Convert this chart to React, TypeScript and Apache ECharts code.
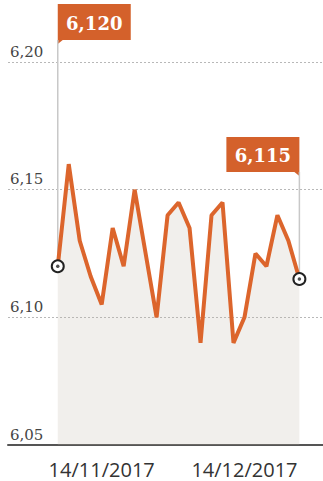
import React, { useEffect, useRef } from 'react';
import * as echarts from 'echarts';

const dates = [
  '05/11/2017', '07/11/2017', '09/11/2017', '12/11/2017', '14/11/2017', '16/11/2017',
  '19/11/2017', '21/11/2017', '23/11/2017', '26/11/2017', '28/11/2017', '30/11/2017',
  '03/12/2017', '05/12/2017', '07/12/2017', '10/12/2017', '12/12/2017', '14/12/2017',
  '17/12/2017', '19/12/2017', '21/12/2017', '24/12/2017', '26/12/2017',
];
const values = [
  6.12, 6.16, 6.13, 6.116, 6.105, 6.135, 6.12, 6.15, 6.125, 6.1, 6.14, 6.145,
  6.135, 6.09, 6.14, 6.145, 6.09, 6.1, 6.125, 6.12, 6.14, 6.13, 6.115,
];
const xTickIdx = [4, 17];
const yMin = 6.05;
const yMax = 6.2;
const yStep = 0.05;

export default function App() {
  const ref = useRef<HTMLDivElement>(null);
  useEffect(() => {
    document.body.style.margin = '0';
    const chart = echarts.init(ref.current!, null, { renderer: 'svg' });
    const last = values.length - 1;
    const data = values.map((v, i) => [i, v]);
    const endStyle = { color: '#fff', borderColor: '#222', borderWidth: 2 };
    chart.setOption({
      animation: false,
      grid: { left: 8, right: 0, top: 62, bottom: 36 },
      xAxis: {
        type: 'value',
        min: -4.53,
        max: 24.15,
        splitLine: { show: false },
        axisTick: { show: false },
        axisLine: { show: true, onZero: false, lineStyle: { color: '#555', width: 2 } },
        axisLabel: {
          customValues: xTickIdx,
          formatter: (v: number) => dates[Math.round(v)] || '',
          margin: 14,
          fontFamily: 'Open Sans',
          fontSize: 20,
          color: '#333',
        },
      },
      yAxis: {
        type: 'value',
        min: yMin,
        max: yMax,
        interval: yStep,
        axisLine: { show: false },
        axisTick: { show: false },
        splitLine: { lineStyle: { type: [2, 2], color: '#b8b8b8', width: 1 } },
        axisLabel: {
          inside: true,
          margin: 2,
          verticalAlign: 'bottom',
          padding: [0, 0, 3, 0],
          fontFamily: 'DejaVu Serif',
          fontSize: 15,
          color: '#444',
          formatter: (v: number) => v.toFixed(2).replace('.', ','),
        },
      },
      series: [
        {
          type: 'line',
          data: data.map((d, i) =>
            i === 0 || i === last
              ? { value: d, symbol: 'circle', symbolSize: 12, itemStyle: endStyle }
              : { value: d, symbol: 'none' }
          ),
          lineStyle: { color: '#dc652c', width: 4 },
          areaStyle: { color: 'rgba(190,180,165,0.3)', origin: 'start' },
          z: 3,
        },
        {
          type: 'scatter',
          data: [data[0], data[last]],
          symbolSize: 3.5,
          itemStyle: { color: '#222' },
          z: 5,
        },
      ],
    });

    const p0 = chart.convertToPixel({ gridIndex: 0 }, data[0]) as number[];
    const p1 = chart.convertToPixel({ gridIndex: 0 }, data[last]) as number[];
    const boxColor = '#d4612b';
    const fmt = (v: number) => v.toFixed(3).replace('.', ',');
    const b1 = { x: p0[0], y: 4, w: 73, h: 36 };
    const b2 = { x: p1[0] - 73, y: 137, w: 73, h: 35 };
    chart.setOption({
      graphic: [
        { type: 'line', z: 1, shape: { x1: p0[0], y1: b1.y + b1.h, x2: p0[0], y2: p0[1] }, style: { stroke: '#c8c8c8', lineWidth: 1.5 } },
        { type: 'line', z: 1, shape: { x1: p1[0], y1: b2.y + b2.h, x2: p1[0], y2: p1[1] }, style: { stroke: '#c8c8c8', lineWidth: 1.5 } },
        { type: 'rect', shape: { x: b1.x, y: b1.y, width: b1.w, height: b1.h }, style: { fill: boxColor } },
        { type: 'polygon', shape: { points: [[b1.x, b1.y + b1.h], [b1.x + 5, b1.y + b1.h], [b1.x, b1.y + b1.h + 4]] }, style: { fill: boxColor } },
        { type: 'text', x: b1.x + b1.w / 2, y: b1.y + b1.h / 2 + 1, style: { text: fmt(values[0]), fill: '#fff', font: 'bold 18px "DejaVu Serif"', align: 'center', verticalAlign: 'middle' } },
        { type: 'rect', shape: { x: b2.x, y: b2.y, width: b2.w, height: b2.h }, style: { fill: boxColor } },
        { type: 'polygon', shape: { points: [[b2.x + b2.w - 5, b2.y + b2.h], [b2.x + b2.w, b2.y + b2.h], [b2.x + b2.w, b2.y + b2.h + 4]] }, style: { fill: boxColor } },
        { type: 'text', x: b2.x + b2.w / 2, y: b2.y + b2.h / 2 + 1, style: { text: fmt(values[last]), fill: '#fff', font: 'bold 18px "DejaVu Serif"', align: 'center', verticalAlign: 'middle' } },
      ],
    });
    return () => chart.dispose();
  }, []);
  return <div ref={ref} style={{ width: 323, height: 481 }} />;
}
